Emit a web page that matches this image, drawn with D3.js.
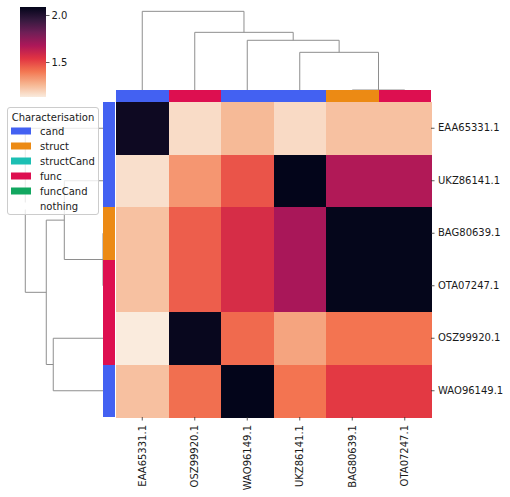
<!DOCTYPE html>
<html>
<head>
<meta charset="utf-8">
<script src="https://cdn.jsdelivr.net/npm/d3@7"></script>
<style>
  html, body { margin: 0; padding: 0; background: #fff; }
  text { font-family: "DejaVu Sans", sans-serif; }
</style>
</head>
<body>
<svg id="chart" width="510" height="497"></svg>
<script>
// ---------------- data ----------------
const rowLabels = ["EAA65331.1", "UKZ86141.1", "BAG80639.1", "OTA07247.1", "OSZ99920.1", "WAO96149.1"];
const colLabels = ["EAA65331.1", "OSZ99920.1", "WAO96149.1", "UKZ86141.1", "BAG80639.1", "OTA07247.1"];
const rowGroups = ["cand", "cand", "struct", "func", "func", "cand"];
const colGroups = ["cand", "func", "cand", "cand", "struct", "func"];
const values = [
  [2.056, 1.166, 1.250, 1.170, 1.233, 1.233],
  [1.157, 1.330, 1.470, 2.085, 1.664, 1.664],
  [1.233, 1.450, 1.568, 1.683, 2.080, 2.080],
  [1.233, 1.450, 1.568, 1.683, 2.080, 2.080],
  [1.128, 2.070, 1.425, 1.300, 1.405, 1.405],
  [1.235, 1.415, 2.085, 1.405, 1.525, 1.525]
];
const legendCategories = ["cand", "struct", "structCand", "func", "funcCand", "nothing"];
const legendColors = ["#4361f2", "#ec8a14", "#1cbfb3", "#dd0f50", "#12a760", "#ffffff"];
const legendTitle = "Characterisation";
const colorbarTicks = [1.5, 2.0];
// linkage: [childA, childB, height]; leaves 0..5 are the display order, new nodes from 6
const colLinkage = [[4, 5, 0.0], [3, 6, 0.479], [2, 7, 0.632], [1, 8, 0.733], [0, 9, 1.0]];
const rowLinkage = [[2, 3, 0.0], [1, 6, 0.498], [4, 5, 0.640], [7, 8, 0.730], [0, 9, 1.0]];

// ---------------- layout ----------------
const svg = d3.select("#chart");
const hm = { x0: 116, x1: 431, y0: 102, y1: 417 };
const colColorBand = { y0: 90, y1: 102 };
const rowColorBand = { x0: 103, x1: 115 };

const xBand = d3.scaleBand().domain(d3.range(colLabels.length)).range([hm.x0, hm.x1]);
const yBand = d3.scaleBand().domain(d3.range(rowLabels.length)).range([hm.y0, hm.y1]);

const groupColor = d3.scaleOrdinal().domain(legendCategories).range(legendColors);

// rocket colormap (reversed)
const rocketStops = ["#03051a", "#35193e", "#701f57", "#ad1759", "#e13342", "#f37651", "#f6b48f", "#faebdd"];
const rocket = d3.scaleLinear()
  .domain(rocketStops.map((d, i) => i === 0 ? 0 : (i === rocketStops.length - 1 ? 1 : i / 7)))
  .range(rocketStops)
  .interpolate(d3.interpolateRgb)
  .clamp(true);
const allVals = values.flat();
const [vmin, vmax] = d3.extent(allVals);
const norm = d3.scaleLinear().domain([vmin, vmax]).range([0, 1]).clamp(true);
const colorOf = v => rocket(1 - norm(v));

// ---------------- dendrograms ----------------
const lineColor = "#8e8e8e";
function drawDendro(linkage, leafPos, hScale, vertical) {
  const n = linkage.length + 1;
  const pos = [], hgt = [];
  for (let i = 0; i < n; i++) { pos[i] = leafPos(i); hgt[i] = 0; }
  const g = svg.append("g");
  linkage.forEach((l, k) => {
    const [a, b, h] = l;
    const id = n + k;
    pos[id] = (pos[a] + pos[b]) / 2;
    hgt[id] = h;
    let d;
    if (vertical) {
      d = `M${pos[a]},${hScale(hgt[a])}V${hScale(h)}H${pos[b]}V${hScale(hgt[b])}`;
    } else {
      d = `M${hScale(hgt[a])},${pos[a]}H${hScale(h)}V${pos[b]}H${hScale(hgt[b])}`;
    }
    g.append("path").attr("d", d).attr("fill", "none")
      .attr("stroke", lineColor).attr("stroke-width", 1);
  });
}
const colMax = d3.max(colLinkage, d => d[2]);
const colH = d3.scaleLinear().domain([0, colMax * 1.05]).range([90, 7.4]);
drawDendro(colLinkage, i => xBand(i) + xBand.bandwidth() / 2, colH, true);

const rowMax = d3.max(rowLinkage, d => d[2]);
const rowH = d3.scaleLinear().domain([0, rowMax * 1.05]).range([103, 21.4]);
drawDendro(rowLinkage, i => yBand(i) + yBand.bandwidth() / 2, rowH, false);

// ---------------- group colour bars ----------------
svg.append("g").selectAll("rect").data(colGroups).join("rect")
  .attr("x", (d, i) => xBand(i)).attr("y", colColorBand.y0)
  .attr("width", xBand.bandwidth()).attr("height", colColorBand.y1 - colColorBand.y0)
  .attr("fill", d => groupColor(d)).attr("shape-rendering", "crispEdges");
svg.append("g").selectAll("rect").data(rowGroups).join("rect")
  .attr("x", rowColorBand.x0).attr("y", (d, i) => yBand(i))
  .attr("width", rowColorBand.x1 - rowColorBand.x0).attr("height", yBand.bandwidth())
  .attr("fill", d => groupColor(d)).attr("shape-rendering", "crispEdges");

// ---------------- heatmap ----------------
const cells = [];
values.forEach((row, r) => row.forEach((v, c) => cells.push({ r, c, v })));
svg.append("g").selectAll("rect").data(cells).join("rect")
  .attr("x", d => xBand(d.c)).attr("y", d => yBand(d.r))
  .attr("width", xBand.bandwidth() + 0.5).attr("height", yBand.bandwidth() + 0.5)
  .attr("fill", d => colorOf(d.v)).attr("shape-rendering", "crispEdges");

// axes
const xAxisScale = d3.scaleBand().domain(colLabels).range([hm.x0, hm.x1]);
const yAxisScale = d3.scaleBand().domain(rowLabels).range([hm.y0, hm.y1]);
const xAxis = svg.append("g").attr("transform", `translate(0,${hm.y1})`)
  .call(d3.axisBottom(xAxisScale).tickSize(3.5).tickPadding(3.5));
xAxis.select(".domain").remove();
xAxis.selectAll("text")
  .attr("font-size", 10).attr("fill", "#1a1a1a")
  .attr("transform", "rotate(-90)")
  .attr("text-anchor", "end")
  .attr("x", -8).attr("y", 0).attr("dy", "0.35em");
const yAxis = svg.append("g").attr("transform", `translate(${hm.x1},0)`)
  .call(d3.axisRight(yAxisScale).tickSize(3.5).tickPadding(3.5));
yAxis.select(".domain").remove();
yAxis.selectAll("text").attr("font-size", 10).attr("fill", "#1a1a1a");
svg.selectAll(".tick line").attr("stroke", "#333").attr("stroke-width", 0.8);

// ---------------- colorbar ----------------
const cb = { x0: 20, x1: 46, y0: 7, y1: 97 };
const defs = svg.append("defs");
const grad = defs.append("linearGradient").attr("id", "cbgrad")
  .attr("x1", "0").attr("y1", "1").attr("x2", "0").attr("y2", "0");
d3.range(0, 1.0001, 0.02).forEach(t => {
  grad.append("stop").attr("offset", t).attr("stop-color", colorOf(vmin + t * (vmax - vmin)));
});
svg.append("rect").attr("x", cb.x0).attr("y", cb.y0)
  .attr("width", cb.x1 - cb.x0).attr("height", cb.y1 - cb.y0)
  .attr("fill", "url(#cbgrad)");
const cbScale = d3.scaleLinear().domain([vmin, vmax]).range([cb.y1, cb.y0]);
const cbAxis = svg.append("g").attr("transform", `translate(${cb.x1},0)`)
  .call(d3.axisRight(cbScale).tickValues(colorbarTicks).tickFormat(d3.format(".1f")).tickSize(3.5).tickPadding(2));
cbAxis.select(".domain").remove();
cbAxis.selectAll("text").attr("font-size", 10).attr("fill", "#1a1a1a");
cbAxis.selectAll(".tick line").attr("stroke", "#333").attr("stroke-width", 0.8);

// ---------------- legend ----------------
const lg = svg.append("g");
lg.append("rect").attr("x", 7.5).attr("y", 107.5).attr("width", 91).attr("height", 107)
  .attr("rx", 2.5).attr("fill", "#fff").attr("fill-opacity", 0.8)
  .attr("stroke", "#cccccc").attr("stroke-width", 1);
lg.append("text").attr("x", 53).attr("y", 120.5).attr("text-anchor", "middle")
  .attr("font-size", 10).attr("fill", "#1a1a1a").text(legendTitle);
const entries = lg.selectAll("g.entry").data(legendCategories).join("g")
  .attr("class", "entry")
  .attr("transform", (d, i) => `translate(0,${131 + i * 15})`);
entries.append("rect").attr("x", 11).attr("y", -3.5).attr("width", 20).attr("height", 7)
  .attr("fill", d => groupColor(d));
entries.append("text").attr("x", 40).attr("y", 3.6)
  .attr("font-size", 10).attr("fill", "#1a1a1a").text(d => d);
</script>
</body>
</html>
